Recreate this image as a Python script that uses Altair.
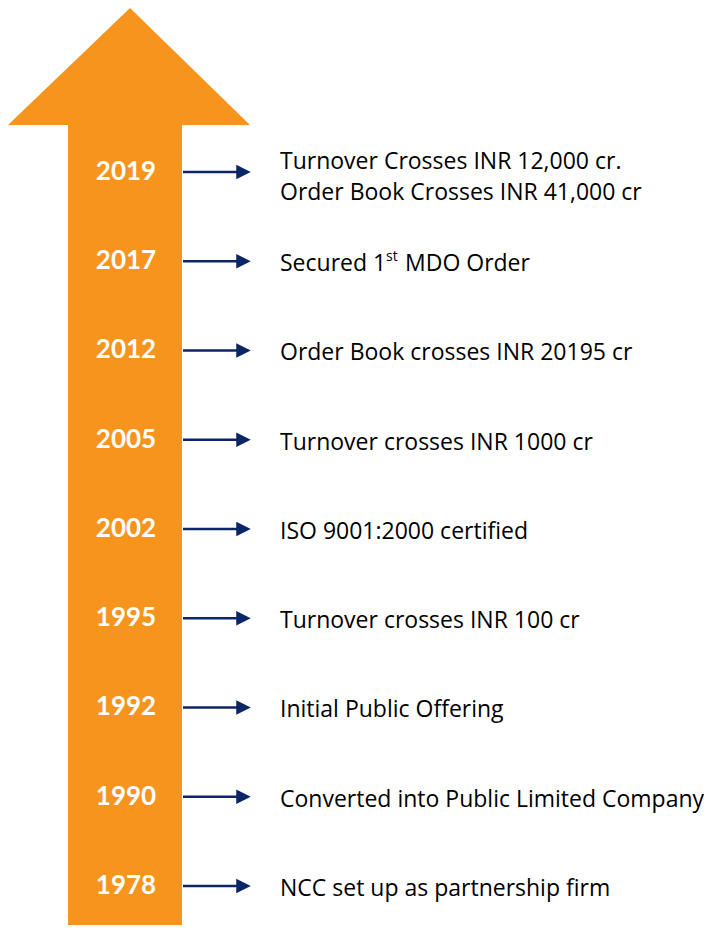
import altair as alt
import pandas as pd

# ---- data ----
years = ["2019", "2017", "2012", "2005", "2002", "1995", "1992", "1990", "1978"]
events = [
    "Turnover Crosses INR 12,000 cr.\nOrder Book Crosses INR 41,000 cr",
    "Secured 1",
    "Order Book crosses INR 20195 cr",
    "Turnover crosses INR 1000 cr",
    "ISO 9001:2000 certified",
    "Turnover crosses INR 100 cr",
    "Initial Public Offering",
    "Converted into Public Limited Company",
    "NCC set up as partnership firm",
]
sup_row = [1]
sup_text = ["st"]
post_text = ["MDO Order"]

rows = pd.DataFrame({"row": list(range(len(years))), "year": years, "event": events})
sup_df = pd.DataFrame({"row": sup_row, "sup": sup_text, "post": post_text})

# ---- styling / geometry ----
ORANGE = "#F7941D"
NAVY = "#0B2566"
FONT = "Open Sans"
FS = 23

x_scale = alt.Scale(domain=[8, 704], nice=False, zero=False)
y_scale = alt.Scale(domain=[-1.8375, 8.437], nice=False, zero=False, reverse=True)

head_df = pd.DataFrame({"x": [8, 130, 250], "y": [-0.5266, -1.8375, -0.5266], "y2": [-0.5266] * 3})
head = alt.Chart(head_df).mark_area(color=ORANGE, clip=False).encode(
    x=alt.X("x:Q", scale=x_scale, axis=None),
    y=alt.Y("y:Q", scale=y_scale, axis=None),
    y2="y2:Q",
)

shaft = alt.Chart(rows).mark_rect(color=ORANGE, clip=False).encode(
    x=alt.XDatum(68, type="quantitative", scale=x_scale, axis=None),
    x2=alt.X2Datum(182),
    y=alt.YDatum(-0.53, type="quantitative", scale=y_scale, axis=None),
    y2=alt.Y2Datum(8.6),
)

base = alt.Chart(rows)

year_text = base.mark_text(
    font="Lato", fontSize=26, fontWeight="bold", color="white", align="center", baseline="middle"
).encode(
    x=alt.XDatum(126, type="quantitative", scale=x_scale, axis=None),
    y=alt.Y("row:Q", scale=y_scale, axis=None),
    text="year:N",
)

arrow_line = base.mark_rule(color=NAVY, strokeWidth=2.5).encode(
    x=alt.XDatum(183, type="quantitative", scale=x_scale, axis=None),
    x2=alt.X2Datum(238),
    y=alt.Y("row:Q", scale=y_scale, axis=None),
)

arrow_head = base.mark_point(
    shape="M-1,-1L1,0L-1,1Z", filled=True, color=NAVY, opacity=1, size=210
).encode(
    x=alt.XDatum(243.5, type="quantitative", scale=x_scale, axis=None),
    y=alt.Y("row:Q", scale=y_scale, axis=None),
)

event_single = base.transform_filter(
    "indexof(datum.event, '\\n') < 0"
).mark_text(
    font=FONT, fontSize=FS, color="#000000", align="left", baseline="middle", dy=3,
).encode(
    x=alt.XDatum(280, type="quantitative", scale=x_scale, axis=None),
    y=alt.Y("row:Q", scale=y_scale, axis=None),
    text="event:N",
)

event_multi = base.transform_filter(
    "indexof(datum.event, '\\n') >= 0"
).mark_text(
    font=FONT, fontSize=FS, color="#000000", align="left", baseline="middle",
    lineBreak="\n", lineHeight=31, dy=-10,
).encode(
    x=alt.XDatum(280, type="quantitative", scale=x_scale, axis=None),
    y=alt.Y("row:Q", scale=y_scale, axis=None),
    text="event:N",
)

sup = alt.Chart(sup_df).mark_text(
    font=FONT, fontSize=14, color="#000000", align="left", baseline="middle", dy=-4,
).encode(
    x=alt.XDatum(386, type="quantitative", scale=x_scale, axis=None),
    y=alt.Y("row:Q", scale=y_scale, axis=None),
    text="sup:N",
)

post = alt.Chart(sup_df).mark_text(
    font=FONT, fontSize=FS, color="#000000", align="left", baseline="middle", dy=3,
).encode(
    x=alt.XDatum(405, type="quantitative", scale=x_scale, axis=None),
    y=alt.Y("row:Q", scale=y_scale, axis=None),
    text="post:N",
)

chart = alt.layer(
    head, shaft, year_text, arrow_line, arrow_head, event_single, event_multi, sup, post
).properties(
    width=696, height=917, padding=0, background="white",
    autosize=alt.AutoSizeParams(type="none"),
).configure_view(stroke=None)

chart.save("out.html", embed_options={"renderer": "svg", "actions": False})
